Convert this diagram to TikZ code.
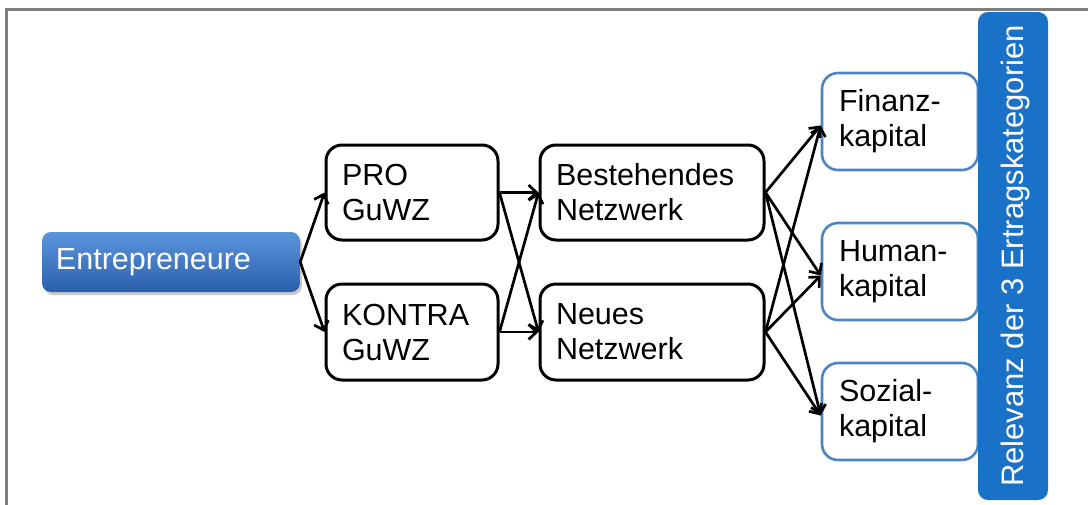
\documentclass[tikz,border=0pt]{standalone}
\usepackage{fontspec}
\setmainfont{Liberation Sans}
\usetikzlibrary{arrows.meta,shadows}
\definecolor{frame}{HTML}{7F7F7F}
\definecolor{bartop}{HTML}{5A95DC}
\definecolor{barbot}{HTML}{2C5FAE}
\definecolor{vbar}{HTML}{1A72C8}
\definecolor{kapborder}{HTML}{4D84C6}
\tikzset{
  txt/.style={font=\fontsize{30.5}{35}\selectfont},
  blackbox/.style={txt, draw=black, line width=3pt, rounded corners=16pt, fill=white,
     align=left, inner xsep=16pt, inner ysep=0pt},
  kapbox/.style={txt, draw=kapborder, line width=2.6pt, rounded corners=16pt, fill=white,
     align=left, inner xsep=17pt, inner ysep=0pt},
  entbox/.style={txt, text=white, rounded corners=9pt, top color=bartop, bottom color=barbot,
     drop shadow={shadow xshift=2pt, shadow yshift=-3pt, opacity=0.35, fill=black!60},
     align=left, inner xsep=14pt, inner ysep=0pt},
  vbarbox/.style={txt, text=white, fill=vbar, rounded corners=10pt, inner sep=0pt},
  conn/.style={draw=black, line width=2.7pt, -{Straight Barb[length=8pt,width=15pt,line width=2.7pt]}}
}
\begin{document}
\begin{tikzpicture}[x=1pt,y=-1pt]
\useasboundingbox (0,0) rectangle (1088,504);
\draw[frame, line width=3pt] (6,506) -- (6,9) -- (1090,9);

\node[entbox, minimum width=258pt, minimum height=60pt, text width=230pt] (ent) at (171,262) {\raisebox{-2pt}{Entrepreneure}};

\node[blackbox, minimum width=172pt, minimum height=95pt, text width=140pt] (pro) at (412,192.5) {PRO\\GuWZ};
\node[blackbox, minimum width=172pt, minimum height=96pt, text width=140pt] (kon) at (412,332) {KONTRA\\GuWZ};

\node[blackbox, minimum width=224pt, minimum height=95pt, text width=192pt] (best) at (652,192.5) {Bestehendes\\Netzwerk};
\node[blackbox, minimum width=224pt, minimum height=96pt, text width=192pt] (neu) at (652,332) {Neues\\Netzwerk};

\node[kapbox, minimum width=156pt, minimum height=97pt, text width=122pt] (fin) at (900,121.5) {Finanz-\\kapital};
\node[kapbox, minimum width=156pt, minimum height=97pt, text width=122pt] (hum) at (900,271.5) {Human-\\kapital};
\node[kapbox, minimum width=156pt, minimum height=97pt, text width=122pt] (soz) at (900,411.5) {Sozial-\\kapital};

\node[vbarbox, minimum width=70pt, minimum height=488pt] (rel) at (1013,256) {};
\node[txt, font=\fontsize{31}{35}\selectfont, text=white, rotate=90, inner sep=0pt] (reltxt) at (1015,256) {Relevanz der 3 Ertragskategorien};

\draw[conn] (ent.east) -- (pro.west);
\draw[conn] (ent.east) -- (kon.west);
\draw[conn] (pro.east) -- (best.west);
\draw[conn] (pro.east) -- (neu.west);
\draw[conn] (kon.east) -- (best.west);
\draw[conn] (kon.east) -- (neu.west);
\foreach \s in {best,neu}{
  \foreach \t in {fin,hum,soz}{
    \draw[conn] (\s.east) -- ([yshift=-4pt]\t.west);
  }
}
\end{tikzpicture}
\end{document}
